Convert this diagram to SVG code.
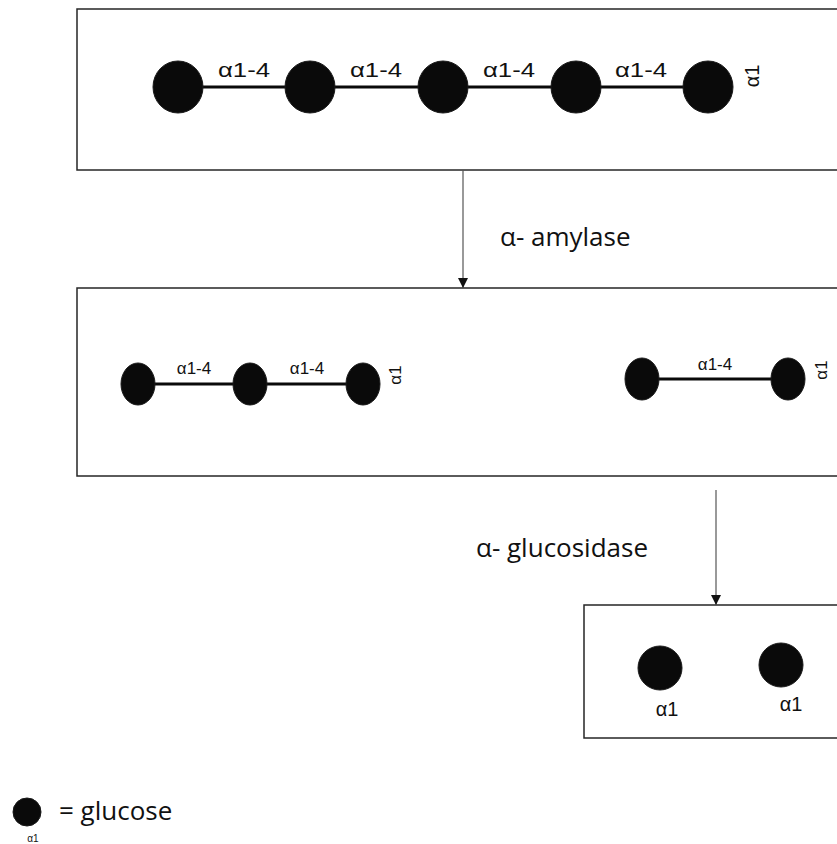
<svg xmlns="http://www.w3.org/2000/svg" width="837" height="844" viewBox="0 0 837 844">
  <style>
    .box { fill: #fff; stroke: #262626; stroke-width: 1.5; }
    .glc { fill: #0a0a0a; stroke: #1a1a1a; stroke-width: 1; }
    .bond { stroke: #0a0a0a; stroke-width: 3; }
    .lbl { font-family: "Liberation Sans", Arial, sans-serif; fill: #111; }
    .enz { font-family: "Open Sans", "Lato", sans-serif; fill: #111; font-size: 26px; }
    .flow { stroke: #555; stroke-width: 1.2; fill: none; }
  </style>
  <defs>
    <marker id="tip" viewBox="0 0 10 10" refX="10" refY="5" markerWidth="10" markerHeight="10" markerUnits="userSpaceOnUse" orient="auto">
      <path d="M0,0 L10,5 L0,10 Z" fill="#111"/>
    </marker>
  </defs>
  <rect width="837" height="844" fill="#fff"/>

  <!-- starch chain -->
  <g id="starch">
    <rect class="box" x="77" y="9" width="770" height="161"/>
    <line class="bond" x1="178" y1="87" x2="708" y2="87"/>
    <ellipse class="glc" cx="178" cy="87" rx="25" ry="26"/>
    <ellipse class="glc" cx="310" cy="87" rx="25" ry="26"/>
    <ellipse class="glc" cx="443" cy="87" rx="25" ry="26"/>
    <ellipse class="glc" cx="576" cy="87" rx="25" ry="26"/>
    <ellipse class="glc" cx="708" cy="87" rx="25" ry="26"/>
    <g class="lbl" font-size="20" text-anchor="middle">
      <text x="244" y="77" textLength="52" lengthAdjust="spacingAndGlyphs">α1-4</text>
      <text x="376" y="77" textLength="52" lengthAdjust="spacingAndGlyphs">α1-4</text>
      <text x="509" y="77" textLength="52" lengthAdjust="spacingAndGlyphs">α1-4</text>
      <text x="641" y="77" textLength="52" lengthAdjust="spacingAndGlyphs">α1-4</text>
      <text transform="translate(759,76) rotate(-90)">α1</text>
    </g>
  </g>

  <!-- oligosaccharides -->
  <g id="fragments">
    <rect class="box" x="77" y="288" width="770" height="188"/>
    <line class="bond" x1="138" y1="384" x2="363" y2="384"/>
    <ellipse class="glc" cx="138" cy="384" rx="17" ry="21"/>
    <ellipse class="glc" cx="250" cy="384" rx="17" ry="21"/>
    <ellipse class="glc" cx="363" cy="384" rx="17" ry="21"/>
    <line class="bond" x1="642" y1="379" x2="788" y2="379"/>
    <ellipse class="glc" cx="642" cy="379" rx="17" ry="21"/>
    <ellipse class="glc" cx="788" cy="379" rx="17" ry="21"/>
    <g class="lbl" font-size="17" text-anchor="middle">
      <text x="194" y="374">α1-4</text>
      <text x="307" y="374">α1-4</text>
      <text x="715" y="370">α1-4</text>
      <text transform="translate(401,375) rotate(-90)">α1</text>
      <text transform="translate(827,370) rotate(-90)">α1</text>
    </g>
  </g>

  <!-- free glucose -->
  <g id="glucose">
    <rect class="box" x="584" y="605" width="263" height="133"/>
    <circle class="glc" cx="660" cy="668" r="22"/>
    <circle class="glc" cx="781" cy="665" r="22"/>
    <g class="lbl" font-size="20" text-anchor="middle">
      <text x="667" y="716">α1</text>
      <text x="791" y="711">α1</text>
    </g>
  </g>

  <!-- legend -->
  <g id="legend">
    <circle class="glc" cx="27" cy="812" r="14"/>
    <text class="lbl" x="33" y="842" font-size="10" text-anchor="middle">α1</text>
    <text class="enz" x="59" y="820" font-size="27">= glucose</text>
  </g>

  <!-- enzyme steps -->
  <g id="connectors">
    <line class="flow" x1="463" y1="170" x2="463" y2="288" marker-end="url(#tip)"/>
    <text class="enz" x="500" y="246">α- amylase</text>
    <line class="flow" x1="716" y1="490" x2="716" y2="605" marker-end="url(#tip)"/>
    <text class="enz" x="476" y="557">α- glucosidase</text>
  </g>
</svg>
